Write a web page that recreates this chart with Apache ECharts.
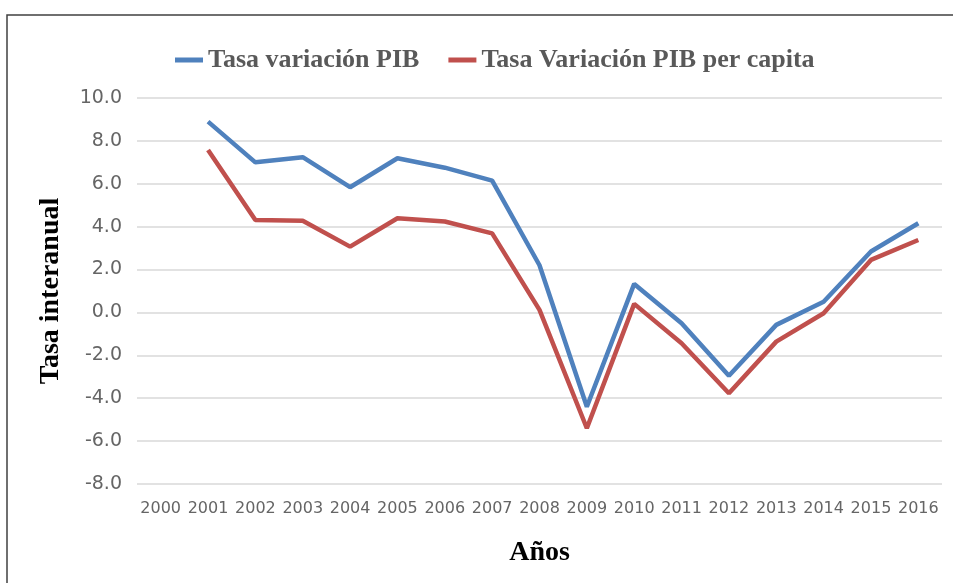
<!DOCTYPE html>
<html>
<head>
<meta charset="utf-8">
<script src="https://cdn.jsdelivr.net/npm/echarts@6/dist/echarts.min.js"></script>
<style>
html,body{margin:0;padding:0;background:#fff;}
#chart{width:953px;height:583px;}
</style>
</head>
<body>
<div id="chart"></div>
<script>
const years = ['2000','2001','2002','2003','2004','2005','2006','2007','2008','2009','2010','2011','2012','2013','2014','2015','2016'];
const tasaPIB = [null, 8.9, 7.0, 7.24, 5.84, 7.19, 6.75, 6.15, 2.2, -4.4, 1.33, -0.5, -2.95, -0.58, 0.5, 2.84, 4.16];
const tasaPIBpc = [null, 7.58, 4.31, 4.28, 3.07, 4.39, 4.24, 3.69, 0.12, -5.4, 0.4, -1.44, -3.77, -1.36, -0.04, 2.45, 3.38];
const seriesNames = ['Tasa variación PIB', 'Tasa Variación PIB per capita'];
const yTicks = {min: -8, max: 10, interval: 2};

const chart = echarts.init(document.getElementById('chart'), null, {renderer: 'canvas'});
const serif = '"Liberation Serif", "Times New Roman", serif';
const labelFont = '"DejaVu Sans", sans-serif';
chart.setOption({
  animation: false,
  backgroundColor: '#ffffff',
  graphic: [{
    type: 'rect',
    shape: {x: 7, y: 15, width: 1200, height: 1000},
    style: {fill: 'none', stroke: '#404040', lineWidth: 1.5},
    silent: true, z: 100
  }],
  legend: {
    left: 170, top: 42,
    icon: 'rect', itemWidth: 28, itemHeight: 5, itemGap: 29,
    textStyle: {fontFamily: serif, fontWeight: 'bold', fontSize: 26, color: '#595959', padding: [0,0,0,0]},
    data: seriesNames
  },
  grid: {left: 137, right: 11, top: 98, bottom: 99, containLabel: false},
  xAxis: {
    type: 'category', data: years, boundaryGap: true,
    axisLine: {show: false}, axisTick: {show: false},
    axisLabel: {fontFamily: labelFont, fontSize: 16, color: '#656565', margin: 17, interval: 0},
    name: 'Años', nameLocation: 'middle', nameGap: 55,
    nameTextStyle: {fontFamily: serif, fontWeight: 'bold', fontSize: 28, color: '#000'}
  },
  yAxis: {
    type: 'value', min: yTicks.min, max: yTicks.max, interval: yTicks.interval,
    axisLine: {show: false}, axisTick: {show: false},
    axisLabel: {fontFamily: labelFont, fontSize: 19, color: '#656565', margin: 15, formatter: v => v.toFixed(1)},
    splitLine: {lineStyle: {color: '#d9d9d9', width: 1.5}},
    name: 'Tasa interanual', nameLocation: 'middle', nameGap: 72, nameRotate: 90,
    nameTextStyle: {fontFamily: serif, fontWeight: 'bold', fontSize: 28, color: '#000'}
  },
  series: [
    {name: seriesNames[0], type: 'line', data: tasaPIB, showSymbol: false, symbol: 'none',
     lineStyle: {color: '#4F81BD', width: 4.5}, itemStyle: {color: '#4F81BD'}},
    {name: seriesNames[1], type: 'line', data: tasaPIBpc, showSymbol: false, symbol: 'none',
     lineStyle: {color: '#C0504D', width: 4.5}, itemStyle: {color: '#C0504D'}}
  ]
});
</script>
</body>
</html>
